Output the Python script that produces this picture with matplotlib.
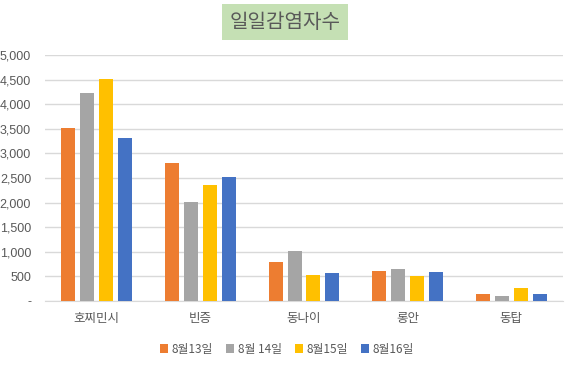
import matplotlib
matplotlib.use("Agg")
import matplotlib.pyplot as plt
import numpy as np
from matplotlib.ticker import FuncFormatter

plt.rcParams['font.family'] = ['Noto Sans CJK KR', 'DejaVu Sans']

categories = ['호찌민시', '빈증', '동나이', '롱안', '동탑']
series_names = ['8월13일', '8월 14일', '8월15일', '8월16일']
aug13 = [3520, 2800, 790, 610, 140]
aug14 = [4230, 2010, 1010, 650, 100]
aug15 = [4510, 2360, 530, 510, 265]
aug16 = [3310, 2520, 570, 590, 140]
colors = ['#ED7D31', '#A5A5A5', '#FFC000', '#4472C4']

W, H = 569, 365
fig = plt.figure(figsize=(W/100, H/100), dpi=100)
ax = fig.add_axes([45/W, (H-301)/H, (563-45)/W, (301-55)/H])

x = np.arange(len(categories))
pitch = 0.183
bw = 0.135
for i, (vals, c, name) in enumerate(zip([aug13, aug14, aug15, aug16], colors, series_names)):
    ax.bar(x + (i - 1.5) * pitch, vals, width=bw, color=c, label=name, zorder=3)

ax.set_xlim(-0.5, len(categories) - 0.5)
ax.set_ylim(0, 5000)
ax.set_yticks(np.arange(0, 5001, 500))
ax.yaxis.set_major_formatter(FuncFormatter(lambda v, p: '-' if v == 0 else f'{int(v):,}'))
ax.grid(axis='y', color='#D9D9D9', linewidth=1, zorder=0)
for s in ['top', 'right', 'left']:
    ax.spines[s].set_visible(False)
ax.spines['bottom'].set_color('#D9D9D9')
ax.tick_params(axis='both', length=0, colors='#595959')
ax.tick_params(axis='x', pad=8, labelsize=9)
ax.tick_params(axis='y', pad=10, labelsize=9)
for lbl in ax.get_yticklabels():
    lbl.set_family(['Liberation Sans'])
ax.set_xticks(x)
ax.set_xticklabels(categories)

fig.text(285/W, 1 - 22/H, '일일감염자수', ha='center', va='center', fontsize=14.5, color='#595959',
         bbox=dict(boxstyle='square,pad=0.35', facecolor='#C5E0B4', edgecolor='none'))

leg = fig.legend(loc='center', bbox_to_anchor=(287/W, 1 - 349/H), ncol=4, frameon=False,
                 fontsize=8.5, handlelength=0.7, handleheight=0.7, handletextpad=0.3, columnspacing=1.1)
for t in leg.get_texts():
    t.set_color('#595959')

fig.savefig('out.png', dpi=100)
